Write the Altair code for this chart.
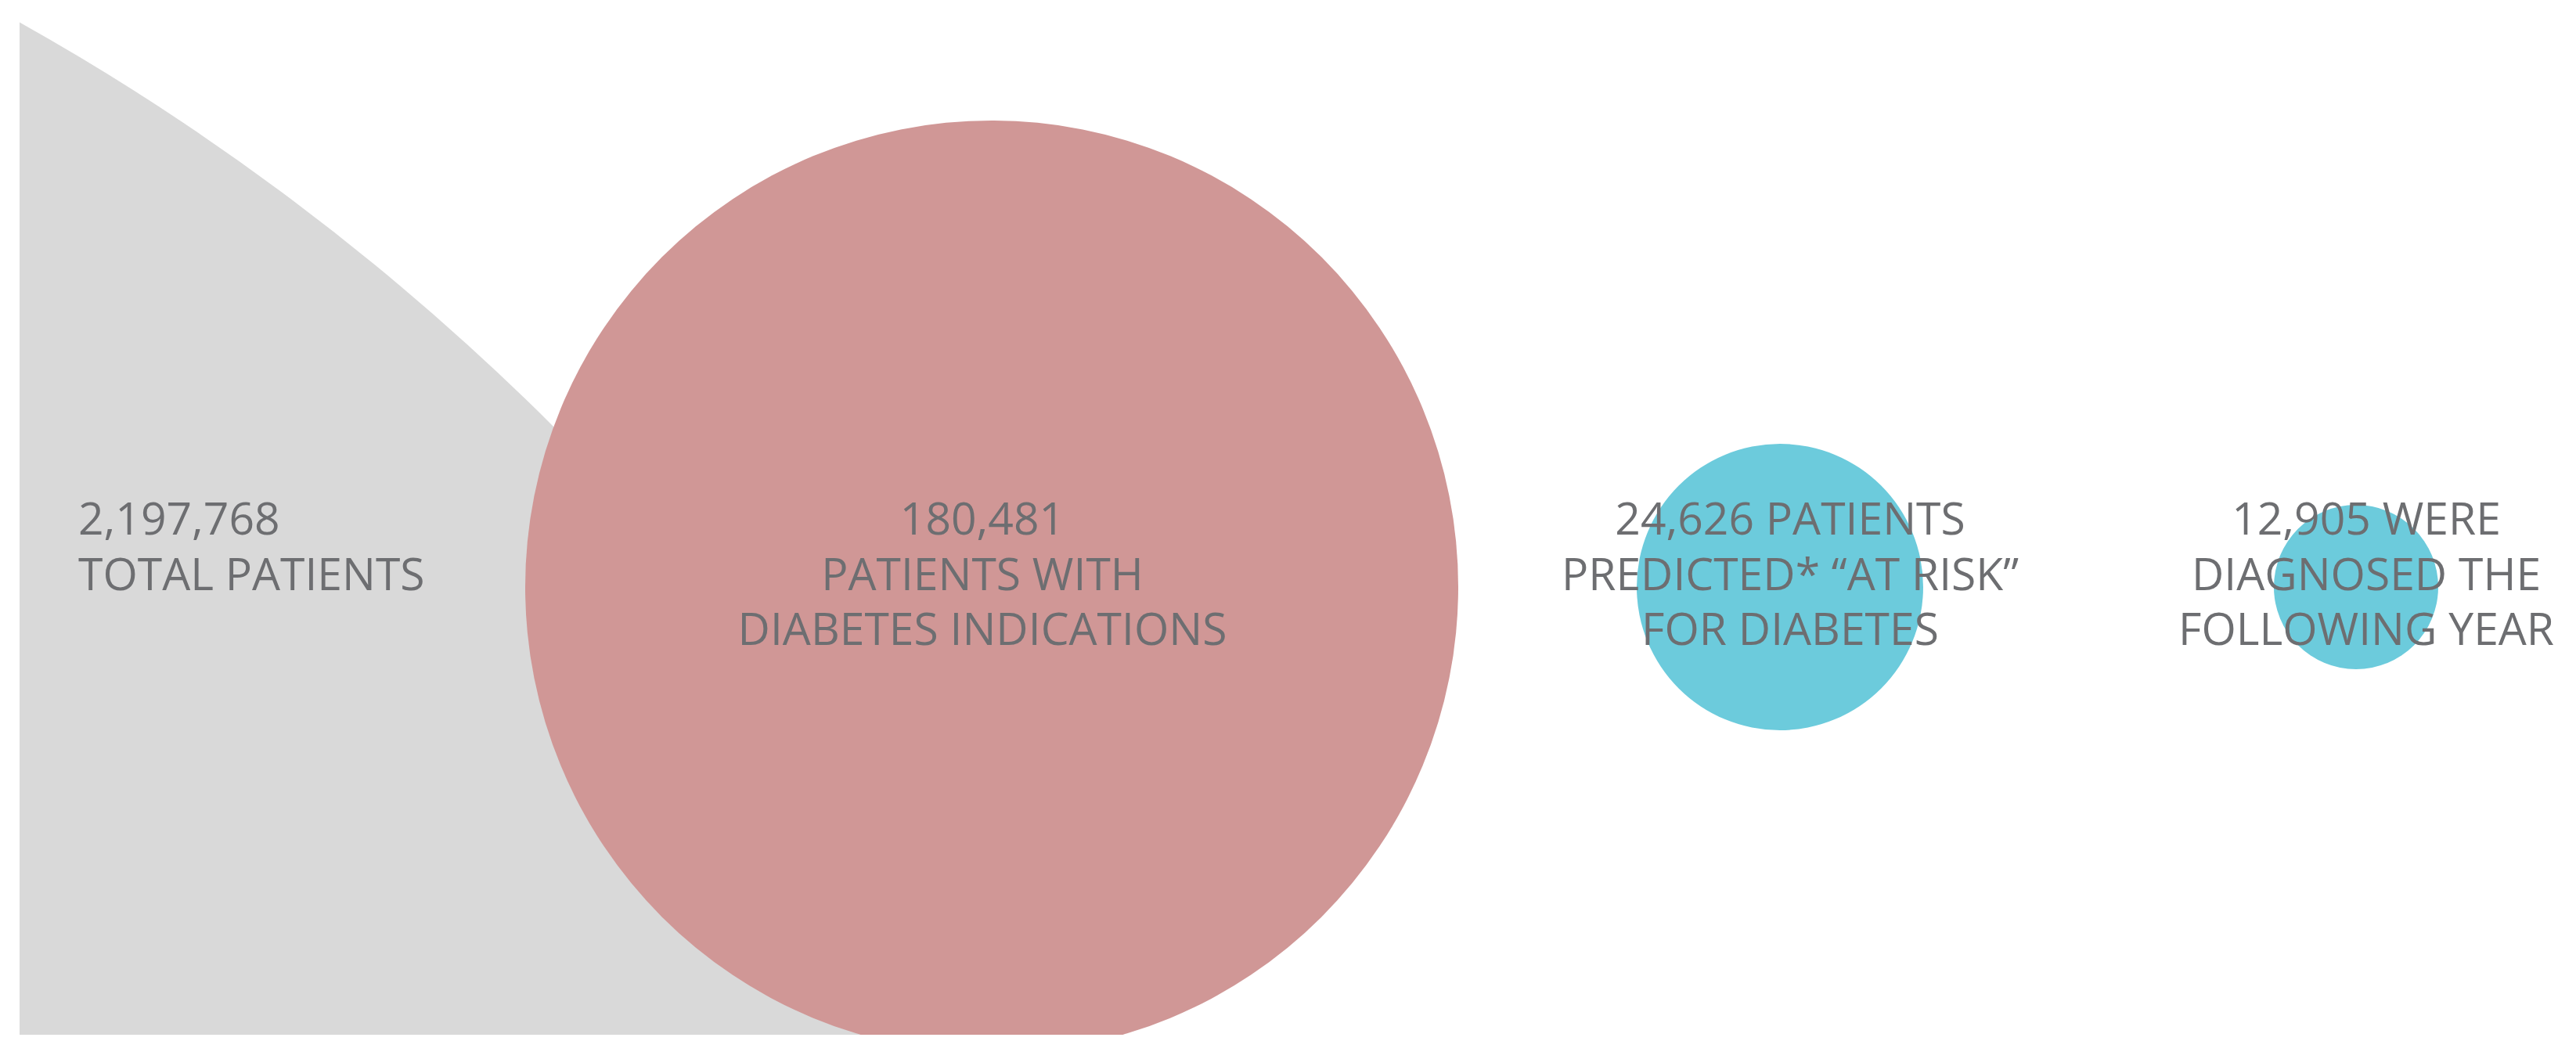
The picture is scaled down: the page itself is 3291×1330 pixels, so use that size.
import altair as alt

# ---- data ----
stages = ["Total patients", "Diabetes indications", "Predicted at risk", "Diagnosed following year"]
counts = [2197768, 180481, 24626, 12905]
label_lines = [
    ["2,197,768", "TOTAL PATIENTS"],
    ["180,481", "PATIENTS WITH", "DIABETES INDICATIONS"],
    ["24,626 PATIENTS", "PREDICTED* \u201cAT RISK\u201d", "FOR DIABETES"],
    ["12,905 WERE", "DIAGNOSED THE", "FOLLOWING YEAR"],
]
colors = ["#d9d9d9", "#d09796", "#6ccbdc", "#6ccbdc"]

records = [
    {"step": i, "stage": s, "count": c, "label": l}
    for i, (s, c, l) in enumerate(zip(stages, counts, label_lines))
]
data = alt.Data(values=records)

W, H = 3258, 1314
steps = [0, 1, 2, 3]

circles = alt.Chart(data).mark_circle(opacity=1, clip=True, strokeWidth=0).encode(
    x=alt.X("step:Q", axis=None,
            scale=alt.Scale(domain=steps, range=[-1536, 1242, 2249, 2985], nice=False, zero=False)),
    y=alt.Y("step:Q", axis=None,
            scale=alt.Scale(domain=steps, range=[2758, 742, 742, 742], nice=False, zero=False)),
    size=alt.Size("count:Q", legend=None,
                  scale=alt.Scale(type="linear", domain=sorted(counts),
                                  range=[210 ** 2, 366 ** 2, 1192 ** 2, 6278 ** 2],
                                  nice=False, zero=False)),
    color=alt.Color("stage:N", legend=None, scale=alt.Scale(domain=stages, range=colors)),
    order=alt.Order("step:Q"),
)

text_x = alt.X("step:Q", axis=None,
               scale=alt.Scale(domain=steps, range=[75, 1230, 2262, 2998], nice=False, zero=False))

text_style = dict(baseline="alphabetic", font="Open Sans", fontSize=57, lineHeight=70.5,
                  color="#6d6e71", lineBreak="\n")

left_text = alt.Chart(data).transform_filter("datum.step == 0").mark_text(
    align="left", **text_style
).encode(x=text_x, y=alt.value(675), text=alt.Text("label:N"))

center_text = alt.Chart(data).transform_filter("datum.step > 0").mark_text(
    align="center", **text_style
).encode(x=text_x, y=alt.value(675), text=alt.Text("label:N"))

chart = alt.layer(circles, left_text, center_text).resolve_scale(
    x="independent", y="independent"
).properties(
    width=W, height=H,
    padding={"left": 17, "top": 0, "right": 0, "bottom": 0},
    autosize=alt.AutoSizeParams(type="none"),
    background="white",
).configure_view(stroke=None)

chart.save("out.html", embed_options={"renderer": "svg", "actions": False})
